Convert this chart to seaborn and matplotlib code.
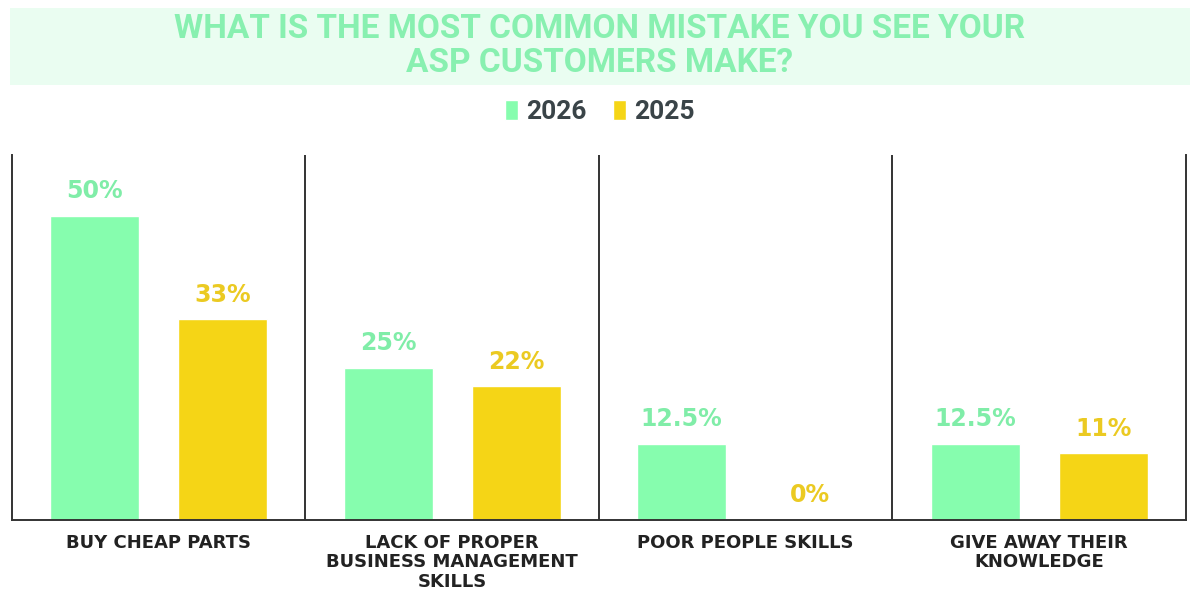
import matplotlib
matplotlib.use('Agg')
import matplotlib.pyplot as plt
import seaborn as sns
import pandas as pd
from matplotlib.patches import Rectangle

# Data
categories = ['BUY CHEAP PARTS',
              'LACK OF PROPER\nBUSINESS MANAGEMENT\nSKILLS',
              'POOR PEOPLE SKILLS',
              'GIVE AWAY THEIR\nKNOWLEDGE']
years = ['2026', '2025']
values_2026 = [50, 25, 12.5, 12.5]
values_2025 = [33, 22, 0, 11]

green = '#86fdae'
yellow = '#f5d516'
green_text = '#80eda8'
yellow_text = '#ebca22'
dark = '#222222'


def build_frame():
   rows = []
   for cat, v26, v25 in zip(categories, values_2026, values_2025):
      rows.append({'category': cat, 'year': '2026', 'value': v26})
      rows.append({'category': cat, 'year': '2025', 'value': v25})
   return pd.DataFrame(rows)


def fmt(v):
   return '{:g}%'.format(v)


def main():
   df = build_frame()
   sns.set_style('white')
   plt.rcParams['font.family'] = ['Lato', 'DejaVu Sans']

   fig = plt.figure(figsize=(12, 5.99), dpi=100)
   ax = fig.add_axes([0.01, 0.1319, 0.9783, 0.6093])

   sns.barplot(data=df, x='category', y='value', hue='year', hue_order=years,
               palette=[green, yellow], width=0.872, gap=0.305,
               saturation=1, ax=ax, legend=True)

   # value labels
   text_cols = [green_text, yellow_text]
   series = [values_2026, values_2025]
   for cont, col, vals in zip(ax.containers, text_cols, series):
      ax.bar_label(cont, labels=[fmt(v) for v in vals], padding=9,
                   color=col, fontsize=17, fontweight='heavy',
                   family=['DejaVu Sans'])

   ax.set_xlim(-0.5, 3.5)
   ax.set_ylim(0, 60)
   ax.set_xlabel('')
   ax.set_ylabel('')
   ax.set_yticks([])
   ax.tick_params(axis='x', length=0, pad=10)
   for lab in ax.get_xticklabels():
      lab.set_fontfamily('DejaVu Sans')
      lab.set_fontweight('bold')
      lab.set_fontsize(13)
      lab.set_color(dark)
      lab.set_linespacing(1.1)

   for side in ['left', 'bottom', 'right']:
      ax.spines[side].set_visible(True)
      ax.spines[side].set_color('#333333')
      ax.spines[side].set_linewidth(1.4)
   ax.spines['top'].set_visible(False)
   for xv in [0.5, 1.5, 2.5]:
      ax.axvline(xv, color='#333333', lw=1.4)

   # legend
   handles, labels = ax.get_legend_handles_labels()
   ax.get_legend().remove()
   leg = fig.legend(handles, labels, loc='center', bbox_to_anchor=(0.5, 1 - 112 / 599),
                    ncol=2, frameon=False, handlelength=0.5, handleheight=0.8,
                    handletextpad=0.3, columnspacing=1.0,
                    prop={'family': 'Roboto', 'weight': 'bold', 'size': 19})
   for t in leg.get_texts():
      t.set_color('#3a4448')

   # title band
   fig.patches.append(Rectangle((10 / 1200, 1 - 85 / 599), 1180 / 1200, 77 / 599,
                                transform=fig.transFigure, facecolor='#eafdf1',
                                edgecolor='none', zorder=0))
   fig.text(0.5, 1 - 46 / 599,
            'WHAT IS THE MOST COMMON MISTAKE YOU SEE YOUR\nASP CUSTOMERS MAKE?',
            ha='center', va='center', color='#88f0b0', fontsize=24,
            fontweight='bold', linespacing=1.08, family=['Roboto', 'DejaVu Sans'])

   fig.savefig('out.png', dpi=100)


if __name__ == '__main__':
   main()
